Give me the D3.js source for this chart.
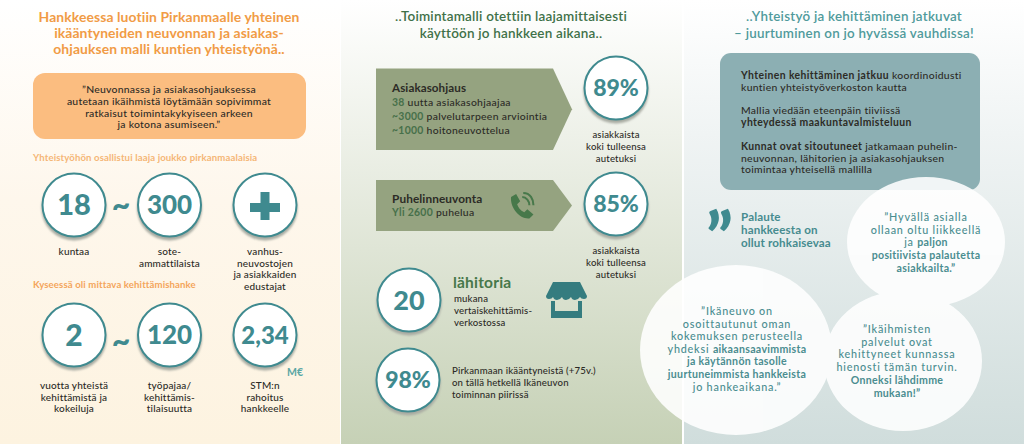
<!DOCTYPE html>
<html>
<head>
<meta charset="utf-8">
<script src="https://cdn.jsdelivr.net/npm/d3@7"></script>
<style>
    html, body { margin: 0; padding: 0; background: #fff; }
    svg { display: block; }
    text { font-family: Lato, "Noto Sans", sans-serif; }
</style>
</head>
<body>
<script>
// values
const leftTitle = ["Hankkeessa luotiin Pirkanmaalle yhteinen", "ikääntyneiden neuvonnan ja asiakas-", "ohjauksen malli kuntien yhteistyönä.."];
const leftQuote = ["”Neuvonnassa ja asiakasohjauksessa", "autetaan ikäihmistä löytämään sopivimmat", "ratkaisut toimintakykyiseen arkeen", "ja kotona asumiseen.”"];
const leftHeads = ["Yhteistyöhön osallistui laaja joukko pirkanmaalaisia", "Kyseessä oli mittava kehittämishanke"];
const topValues = ["18", "300", ""];
const topLabels = [["kuntaa"], ["sote-", "ammattilaista"], ["vanhus-", "neuvostojen", "ja asiakkaiden", "edustajat"]];
const bottomValues = ["2", "120", "2,34"];
const bottomLabels = [["vuotta yhteistä", "kehittämistä ja", "kokeiluja"], ["työpajaa/", "kehittämis-", "tilaisuutta"], ["STM:n", "rahoitus", "hankkeelle"]];

const midTitle = ["..Toimintamalli otettiin laajamittaisesti", "käyttöön jo hankkeen aikana.."];
const guidanceHead = "Asiakasohjaus";
const guidanceNums = ["38", "~3000", "~1000"];
const guidanceText = [" uutta asiakasohjaajaa", " palvelutarpeen arviointia", " hoitoneuvottelua"];
const phoneHead = "Puhelinneuvonta";
const phoneNum = "Yli 2600";
const phoneText = " puhelua";
const satisfied = ["89%", "85%"];
const satisfiedLabel = ["asiakkaista", "koki tulleensa", "autetuksi"];
const squareValue = "20";
const squareHead = "lähitoria";
const squareText = ["mukana", "vertaiskehittämis-", "verkostossa"];
const coverValue = "98%";
const coverText = ["Pirkanmaan ikääntyneistä (+75v.)", "on tällä hetkellä Ikäneuvon", "toiminnan piirissä"];

const rightTitle = ["..Yhteistyö ja kehittäminen jatkuvat", "– juurtuminen on jo hyvässä vauhdissa!"];
const rightBox = [
    [["Yhteinen kehittäminen jatkuu", 1], [" koordinoidusti", 0]],
    [["kuntien yhteistyöverkoston kautta", 0]],
    [["Mallia viedään eteenpäin tiiviissä", 0]],
    [["yhteydessä maakuntavalmisteluun", 1]],
    [["Kunnat ovat sitoutuneet", 1], [" jatkamaan puhelin-", 0]],
    [["neuvonnan, lähitorien ja asiakasohjauksen", 0]],
    [["toimintaa yhteisellä mallilla", 0]]
];
const feedbackHead = ["Palaute", "hankkeesta on", "ollut rohkaisevaa"];
const quoteOne = [[["”Hyvällä asialla", 0]], [["ollaan oltu liikkeellä", 0]], [["ja ", 0], ["paljon", 1]], [["positiivista palautetta", 1]], [["asiakkailta.”", 1]]];
const quoteTwo = [[["”Ikäneuvo on", 0]], [["osoittautunut oman", 0]], [["kokemuksen perusteella", 0]], [["yhdeksi ", 0], ["aikaansaavimmista", 1]], [["ja käytännön tasolle", 1]], [["juurtuneimmista hankkeista", 1]], [["jo hankeaikana.”", 0]]];
const quoteThree = [[["”Ikäihmisten", 0]], [["palvelut ovat", 0]], [["kehittyneet kunnassa", 0]], [["hienosti tämän turvin.", 0]], [["Onneksi lähdimme", 1]], [["mukaan!”", 1]]];

const width = 1024, height = 444;
const teal = "#3f8a8f", orange = "#f19b45", dark = "#2c2b26", green = "#47784a";

const svg = d3.select("body").append("svg")
    .attr("width", width)
    .attr("height", height);
const defs = svg.append("defs");

function gradient(id, stops) {
    const g = defs.append("linearGradient").attr("id", id)
        .attr("x1", 0).attr("x2", 0).attr("y1", 0).attr("y2", 1);
    g.selectAll("stop").data(stops).enter().append("stop")
        .attr("offset", d => d[0])
        .attr("stop-color", d => d[1]);
}
gradient("bgLeft", [[0, "#ffffff"], [0.45, "#fef7ec"], [1, "#fdf3e0"]]);
gradient("bgMid", [[0, "#ffffff"], [0.3, "#eef1e9"], [1, "#c6d1b6"]]);
gradient("bgRight", [[0, "#ffffff"], [0.3, "#f0f4f4"], [1, "#d0dddc"]]);
defs.append("filter").attr("id", "soft")
    .append("feGaussianBlur").attr("stdDeviation", 0.8);

// panels
svg.append("rect").attr("x", 0).attr("y", 0).attr("width", 340).attr("height", height).attr("fill", "url(#bgLeft)");
svg.append("rect").attr("x", 341).attr("y", 0).attr("width", 341).attr("height", height).attr("fill", "url(#bgMid)");
svg.append("rect").attr("x", 684).attr("y", 0).attr("width", 340).attr("height", height).attr("fill", "url(#bgRight)");

// lines of plain text, one baseline each
function textBlock(x, y, lines, step, o) {
    const t = svg.append("g")
        .attr("text-anchor", o.anchor || "middle")
        .attr("font-size", o.size)
        .attr("font-weight", o.weight || 500)
        .attr("letter-spacing", o.spacing || 0)
        .attr("fill", o.fill || dark);
    t.selectAll("text").data(lines).enter().append("text")
        .attr("x", x)
        .attr("y", (d, i) => y + i * step)
        .text(d => d);
}

// lines with bold parts, given as [text, bold] pairs
function richBlock(x, ys, lines, o) {
    const t = svg.append("g")
        .attr("text-anchor", o.anchor || "middle")
        .attr("font-size", o.size)
        .attr("letter-spacing", o.spacing || 0)
        .attr("fill", o.fill || dark);
    const row = t.selectAll("text").data(lines).enter().append("text")
        .attr("x", x)
        .attr("y", (d, i) => ys(i))
        .attr("xml:space", "preserve");
    row.selectAll("tspan").data(d => d).enter().append("tspan")
        .attr("font-weight", d => d[1] ? 700 : 500)
        .attr("font-size", d => d[1] ? o.size : (o.plainSize || o.size))
        .attr("letter-spacing", d => d[1] ? (o.spacing || 0) : (o.plainSpacing || o.spacing || 0))
        .text(d => d[0]);
}

function badge(cx, cy, value, size) {
    svg.append("circle").attr("cx", cx).attr("cy", cy + 3).attr("r", 32.5)
        .attr("fill", "#a9aca3").attr("filter", "url(#soft)");
    svg.append("circle").attr("cx", cx).attr("cy", cy).attr("r", 31.5)
        .attr("fill", "#fff").attr("stroke", teal).attr("stroke-width", 2);
    svg.append("text").attr("x", cx).attr("y", cy + size * 0.36)
        .attr("text-anchor", "middle")
        .attr("font-size", size)
        .attr("font-weight", 900)
        .attr("fill", teal)
        .text(value);
}

function tilde(cx, cy) {
    svg.append("text").attr("x", cx).attr("y", cy + 11)
        .attr("text-anchor", "middle")
        .attr("font-size", 32).attr("font-weight", 900)
        .attr("fill", teal).text("~");
}

// left panel
const colX = d3.scalePoint().domain(d3.range(3)).range([74, 265]);

textBlock(169, 22, leftTitle, 16.2, { size: 13.9, weight: 700, fill: orange, spacing: 0.1 });
svg.append("rect").attr("x", 33).attr("y", 73).attr("width", 273).attr("height", 66).attr("rx", 12)
    .attr("fill", "#fbbd80");
textBlock(169, 93, leftQuote, 11.8, { size: 10.4, weight: 500, spacing: 0.25 });
textBlock(33, 161, [leftHeads[0]], 0, { size: 9.6, weight: 700, fill: "#f5b676", anchor: "start", spacing: 0.12 });
textBlock(33, 288, [leftHeads[1]], 0, { size: 9.6, weight: 700, fill: "#f4a55b", anchor: "start", spacing: 0.12 });

const topSizes = [29, 26, 25];
const bottomSizes = [30, 26, 24];
topValues.forEach((v, i) => {
    badge(colX(i), 205, v, topSizes[i]);
    textBlock(colX(i), 255, topLabels[i], 11.7, { size: 10, spacing: 0.15 });
});
bottomValues.forEach((v, i) => {
    badge(colX(i), 335, v, bottomSizes[i]);
    textBlock(colX(i), 389, bottomLabels[i], 11.7, { size: 10, spacing: 0.15 });
});
tilde(121, 205);
tilde(121, 341);

// plus sign in the third badge
svg.append("rect").attr("x", 250).attr("y", 203).attr("width", 30).attr("height", 9).attr("fill", teal);
svg.append("rect").attr("x", 260.5).attr("y", 192).attr("width", 9).attr("height", 28).attr("fill", teal);
svg.append("text").attr("x", 303).attr("y", 376)
    .attr("text-anchor", "end")
    .attr("font-size", 10.5).attr("font-weight", 700)
    .attr("fill", "#5ba7a4").text("M€");

// middle panel
textBlock(511, 21, midTitle, 16.5, { size: 13.5, weight: 600, fill: "#3f7148", spacing: 0.2 });

function arrow(y0, y1) {
    const line = d3.line();
    svg.append("path")
        .attr("d", line([[376, y0], [553, y0], [572, (y0 + y1) / 2], [553, y1], [376, y1]]) + "Z")
        .attr("fill", "#95a380");
}
arrow(68.5, 150);
arrow(180, 231);

textBlock(392, 92, [guidanceHead], 0, { size: 11.6, weight: 700, anchor: "start", spacing: 0.1 });
richBlock(392, i => 106 + i * 14, guidanceNums.map((n, i) => [[n, 1], [guidanceText[i], 0]]), { size: 10.4, anchor: "start", spacing: 0.3 });
svg.selectAll("tspan").filter(d => guidanceNums.includes(d[0])).attr("fill", "#47704a");
textBlock(392, 203, [phoneHead], 0, { size: 11.8, weight: 700, anchor: "start", spacing: 0.1 });
richBlock(392, () => 216, [[[phoneNum, 1], [phoneText, 0]]], { size: 10.4, anchor: "start", spacing: 0.3 });
svg.selectAll("tspan").filter(d => d[0] === phoneNum).attr("fill", "#47704a");

// phone icon
svg.append("path")
    .attr("transform", "translate(510,194) scale(1.02)")
    .attr("d", "M1 3 L6 0 L10 7 L7 10 C8 13 10 16 14 18 L17 15 L23 20 L19 24 C10 25 0 14 1 3Z")
    .attr("fill", green);
svg.append("path")
    .attr("transform", "translate(510,194) scale(1.02)")
    .attr("d", "M12 3 C16 3 19 7 19 11 M13 -1 C20 -1 23 5 23 11")
    .attr("fill", "none").attr("stroke", green).attr("stroke-width", 2);

satisfied.forEach((v, i) => {
    badge(616, [88, 204][i], v, 23);
    textBlock(616, [138, 254][i], satisfiedLabel, 11.8, { size: 9.6, spacing: 0.15 });
});

badge(409, 300, squareValue, 27);
textBlock(453, 288, [squareHead], 0, { size: 15.5, weight: 700, fill: green, anchor: "start", spacing: 0.2 });
textBlock(454, 302, squareText, 12, { size: 9.6, anchor: "start", spacing: 0.15 });

// market stall icon
svg.append("path")
    .attr("d", "M553 282h27l7 14q0 3-3 3q-3 0-4-2q-2 3-5 3q-3 0-4-3q-2 3-5 3q-3 0-4-3q-2 3-5 3q-3 0-4-3q-1 2-4 2q-3 0-3-3z")
    .attr("fill", "#357c7f");
svg.append("path")
    .attr("d", "M551 301h4v10h23v-10h4v17h-31z")
    .attr("fill", "#357c7f");

badge(408, 380, coverValue, 23);
textBlock(452, 374, coverText, 12, { size: 9.6, anchor: "start", spacing: 0.15 });

// right panel
textBlock(854, 21, rightTitle, 17, { size: 13.4, weight: 600, fill: "#4f9a9b", spacing: 0.25 });
svg.append("rect").attr("x", 720).attr("y", 53).attr("width", 260).attr("height", 137).attr("rx", 11)
    .attr("fill", "#8cafb3");
const boxY = [79, 90.5, 114, 126, 150, 161.5, 173];
richBlock(741, i => boxY[i], rightBox, { size: 10.4, anchor: "start", spacing: 0.4, plainSpacing: 0.3 });

// feedback bubbles, one group so the overlaps stay flat
const bubbles = [[736, 350, 96, 85], [903, 361, 79, 70], [926, 242, 79, 65]];
svg.append("g").attr("opacity", 0.88)
    .selectAll("ellipse").data(bubbles).enter().append("ellipse")
    .attr("cx", d => d[0]).attr("cy", d => d[1])
    .attr("rx", d => d[2]).attr("ry", d => d[3])
    .attr("fill", "#fff");

const quoteStyle = { size: 10.6, fill: "#4a8d90", spacing: 0.3, plainSize: 10.8, plainSpacing: 0.8 };
richBlock(926, i => 221 + i * 12.7, quoteOne, quoteStyle);
richBlock(737, i => 315 + i * 12.6, quoteTwo, quoteStyle);
richBlock(897, i => 333 + i * 12.7, quoteThree, quoteStyle);

textBlock(741, 221, feedbackHead, 12.8, { size: 11.6, weight: 700, fill: "#468b8f", anchor: "start", spacing: 0.15 });

// closing quote marks
svg.append("text").attr("x", 706).attr("y", 262)
    .attr("font-size", 68).attr("font-weight", 900)
    .attr("fill", "#3f8a8f").text("”");
</script>
</body>
</html>
